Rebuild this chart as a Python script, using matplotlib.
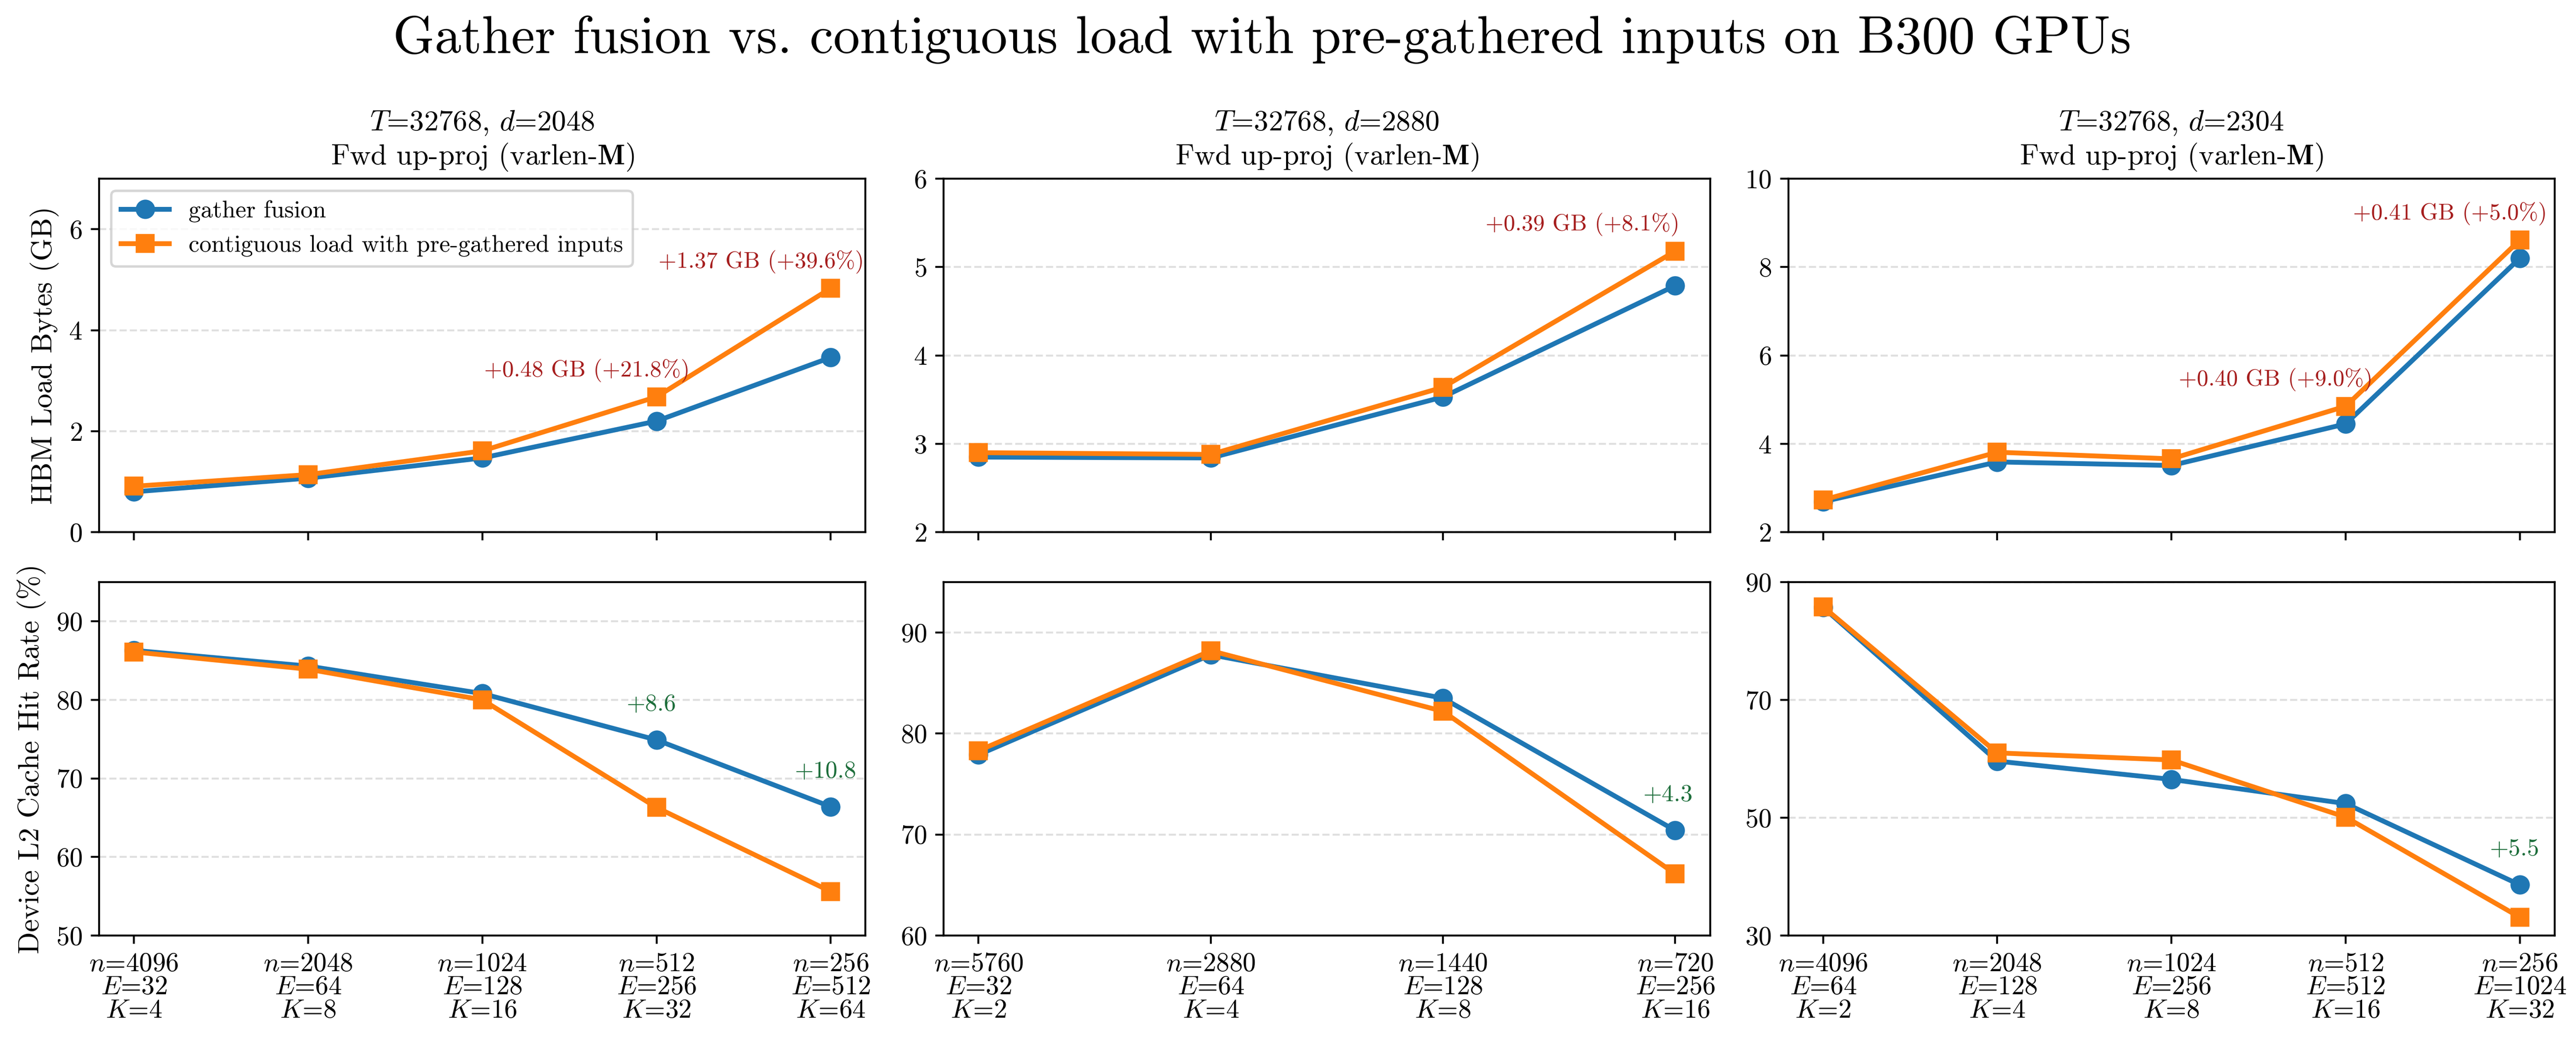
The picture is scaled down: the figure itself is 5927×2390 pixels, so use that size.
import matplotlib.pyplot as plt

plt.rcParams['font.family'] = 'serif'
plt.rcParams['font.serif'] = ['cmr10']
plt.rcParams['mathtext.fontset'] = 'cm'
plt.rcParams['axes.formatter.use_mathtext'] = True
plt.rcParams['axes.unicode_minus'] = False

# problem sizes per column
T = 32768
d_values = [2048, 2880, 2304]
n_values = [[4096, 2048, 1024, 512, 256], [5760, 2880, 1440, 720], [4096, 2048, 1024, 512, 256]]
E_values = [[32, 64, 128, 256, 512], [32, 64, 128, 256], [64, 128, 256, 512, 1024]]
K_values = [[4, 8, 16, 32, 64], [2, 4, 8, 16], [2, 4, 8, 16, 32]]

# HBM load bytes (GB)
hbm_gather = [[0.80, 1.07, 1.47, 2.20, 3.46], [2.85, 2.84, 3.53, 4.79], [2.69, 3.59, 3.51, 4.45, 8.20]]
hbm_contig = [[0.91, 1.14, 1.61, 2.68, 4.83], [2.90, 2.88, 3.64, 5.18], [2.73, 3.81, 3.66, 4.85, 8.61]]

# device L2 cache hit rate (%)
l2_gather = [[86.3, 84.3, 80.8, 74.9, 66.4], [77.9, 87.8, 83.5, 70.4], [85.7, 59.6, 56.5, 52.4, 38.6]]
l2_contig = [[86.1, 83.9, 80.0, 66.3, 55.6], [78.3, 88.2, 82.2, 66.1], [85.8, 61.0, 59.8, 50.1, 33.1]]

# annotations (point index, text)
hbm_notes = [[(3, "+0.48 GB (+21.8%)"), (4, "+1.37 GB (+39.6%)")],
             [(3, "+0.39 GB (+8.1%)")],
             [(3, "+0.40 GB (+9.0%)"), (4, "+0.41 GB (+5.0%)")]]
l2_notes = [[(3, "+8.6"), (4, "+10.8")],
            [(3, "+4.3")],
            [(4, "+5.5")]]

hbm_ylims = [(0, 7), (2, 6), (2, 10)]
hbm_ticks = [[0, 2, 4, 6], [2, 3, 4, 5, 6], [2, 4, 6, 8, 10]]
l2_ylims = [(50, 95), (60, 95), (30, 90)]
l2_ticks = [[50, 60, 70, 80, 90], [60, 70, 80, 90], [30, 50, 70, 90]]

blue = '#1f77b4'
orange = '#ff7f0e'
red = '#a61e1e'
green = '#1d6e3b'

dpi = 400
fig, axes = plt.subplots(2, 3, figsize=(5927 / dpi, 2390 / dpi), sharex='col')
fig.subplots_adjust(left=0.0385, right=0.9917, top=0.828, bottom=0.0996, wspace=0.102, hspace=0.141)

for c in range(3):
    x = list(range(len(n_values[c])))
    ax_top = axes[0, c]
    ax_bot = axes[1, c]

    ax_top.plot(x, hbm_gather[c], marker='o', color=blue, lw=2, ms=7, label='gather fusion')
    ax_top.plot(x, hbm_contig[c], marker='s', color=orange, lw=2, ms=7,
                label='contiguous load with pre-gathered inputs')
    for i, txt in hbm_notes[c]:
        ax_top.annotate(txt, xy=(i - 0.4, hbm_contig[c][i]), xytext=(0, 6),
                        textcoords='offset points', ha='center', va='bottom',
                        color=red, fontsize=9.6)
    ax_top.set_ylim(hbm_ylims[c])
    ax_top.set_yticks(hbm_ticks[c])
    ax_top.set_title("$T$=%d, $d$=%d\nFwd up-proj (varlen-$\\mathbf{M}$)" % (T, d_values[c]), fontsize=12)

    ax_bot.plot(x, l2_gather[c], marker='o', color=blue, lw=2, ms=7)
    ax_bot.plot(x, l2_contig[c], marker='s', color=orange, lw=2, ms=7)
    for i, txt in l2_notes[c]:
        ax_bot.annotate(txt, xy=(i - 0.03, l2_gather[c][i]), xytext=(0, 10),
                        textcoords='offset points', ha='center', va='bottom',
                        color=green, fontsize=10)
    ax_bot.set_ylim(l2_ylims[c])
    ax_bot.set_yticks(l2_ticks[c])

    labels = ["$n$=%d\n$E$=%d\n$K$=%d" % (n, e, k)
              for n, e, k in zip(n_values[c], E_values[c], K_values[c])]
    ax_bot.set_xticks(x)
    ax_bot.set_xticklabels(labels, linespacing=0.95)

    for ax in (ax_top, ax_bot):
        ax.grid(axis='y', linestyle='--', alpha=0.4)
        ax.tick_params(labelsize=11)

axes[0, 0].set_ylabel("HBM Load Bytes (GB)", fontsize=12)
axes[1, 0].set_ylabel("Device L2 Cache Hit Rate (%)", fontsize=12)
axes[0, 0].legend(loc='upper left', fontsize=10)

fig.suptitle("Gather fusion vs. contiguous load with pre-gathered inputs on B300 GPUs",
             fontsize=22, x=0.49, y=0.985)

fig.savefig('out.png', dpi=dpi)
